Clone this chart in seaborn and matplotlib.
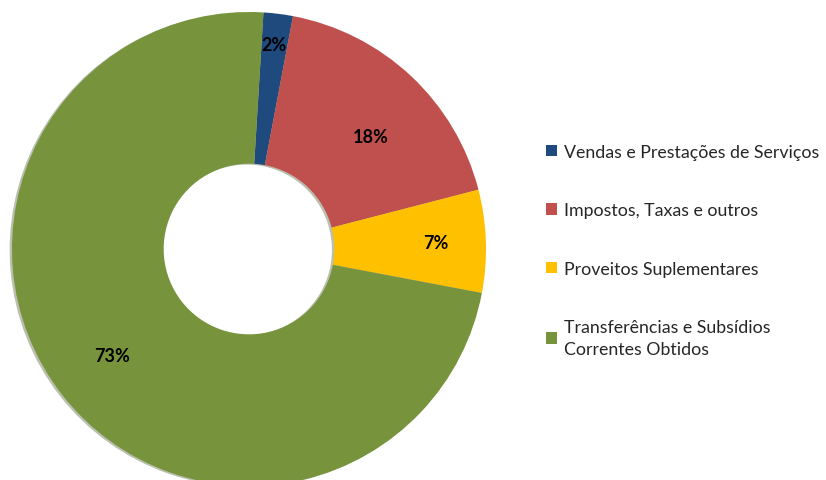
import matplotlib
matplotlib.use("Agg")
import matplotlib.pyplot as plt
import matplotlib.patches as mpatches
import seaborn as sns
import numpy as np

categories = ["Vendas e Prestações de Serviços", "Impostos, Taxas e outros",
              "Proveitos Suplementares", "Transferências e Subsídios\nCorrentes Obtidos"]
values = [2, 18, 7, 73]
pct_labels = ["2%", "18%", "7%", "73%"]

sns.set_theme(style="white")
plt.rcParams['font.family'] = ['Lato', 'DejaVu Sans']

colors = ["#1F4A7E", "#C0504D", "#FFC000", "#77933C"]
label_r = [0.87, 0.70, 0.79, 0.73]
label_da = [0, -4, 0, 0]

fig = plt.figure(figsize=(8.26, 4.81), dpi=100)
W, H = 826, 481
cx, cy, R = 249, 250, 237
ax = fig.add_axes([(cx - R) / W, (H - cy - R) / H, 2 * R / W, 2 * R / H])

# subtle shadow
ax.pie(values, radius=1.0, startangle=86.5, counterclock=False,
       colors=["#3a4a1c"] * 4, center=(-0.01, -0.004),
       wedgeprops=dict(width=0.64, linewidth=0, alpha=0.35))
wedges, _ = ax.pie(values, radius=1.0, startangle=86.5, counterclock=False,
                   colors=colors, wedgeprops=dict(width=0.64, linewidth=0))
ax.set_xlim(-1, 1)
ax.set_ylim(-1, 1)
ax.axis("off")

total = sum(values)
start = 86.5
for v, lab, r, da in zip(values, pct_labels, label_r, label_da):
    ang = np.deg2rad(start - v / total * 360 / 2 + da)
    start -= v / total * 360
    ax.text(r * np.cos(ang), r * np.sin(ang), lab, ha="center", va="center",
            fontsize=13, fontweight="bold", color="black")

handles = [mpatches.Patch(facecolor=c, edgecolor="none", label=l) for c, l in zip(colors, categories)]
leg = fig.legend(handles=handles, loc="upper left", bbox_to_anchor=(546 / W, 1 - 145 / H),
                 frameon=False, fontsize=12.8, labelspacing=2.38, handlelength=0.6,
                 handleheight=0.6, handletextpad=0.4, borderaxespad=0, borderpad=0)
for t in leg.get_texts():
    t.set_linespacing(1.45)

fig.savefig("out.png", dpi=100)
